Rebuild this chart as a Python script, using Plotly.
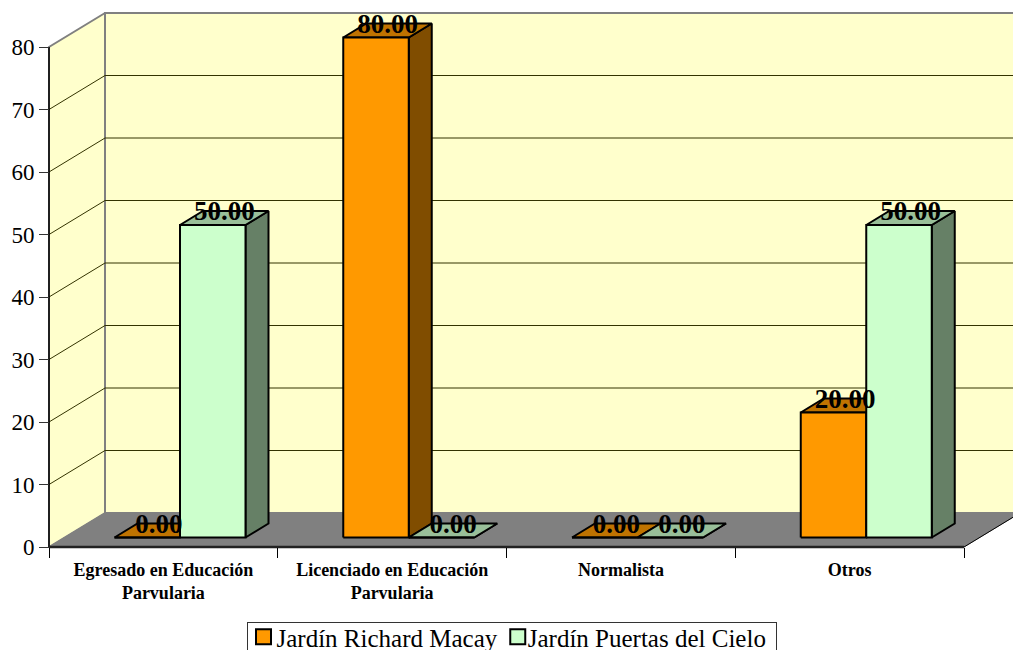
import plotly.graph_objects as go

# ---- data ----
categories = ["Egresado en Educación<br>Parvularia", "Licenciado en Educación<br>Parvularia", "Normalista", "Otros"]
richard_macay = [0, 80, 0, 20]
puertas_cielo = [50, 0, 0, 50]
y_ticks = [0, 10, 20, 30, 40, 50, 60, 70, 80]

# ---- style ----
W, H = 1013, 650
PX_X0, PX_X1, PX_Y0, PX_Y1 = 49, 964, 547, 47
ux = (PX_X1 - PX_X0) / len(categories)     # px per category
uy = (PX_Y0 - PX_Y1) / 80                  # px per value unit
WALL_DX, WALL_DY = 56 / ux, 34 / uy
BAR_DX, BAR_DY = 23 / ux, 14 / uy
SHIFT_X, SHIFT_Y = 65.5 / ux, 9.5 / uy
BAR_W = 65.5 / ux
LABEL_DROP = 2.5 / uy
SERIF = "Liberation Serif"

series = [
    ("Jardín Richard Macay", richard_macay, "#FF9900", "#BF7300", "#804D00"),
    ("Jardín Puertas del Cielo", puertas_cielo, "#CCFFCC", "#99BF99", "#668066"),
]

fig = go.Figure()


def poly(xs, ys, fill, line, lw):
    fig.add_trace(go.Scatter(x=xs, y=ys, mode="lines", fill="toself", fillcolor=fill,
                             line=dict(color=line, width=lw), cliponaxis=False,
                             showlegend=False, hoverinfo="skip"))


def path(xs, ys, color, lw):
    fig.add_trace(go.Scatter(x=xs, y=ys, mode="lines", line=dict(color=color, width=lw),
                             cliponaxis=False, showlegend=False, hoverinfo="skip"))


n = len(categories)
top = y_ticks[-1]
# walls and floor
poly([0, WALL_DX, WALL_DX, 0, 0], [0, WALL_DY, top + WALL_DY, top, 0], "#FFFFCC", "#808080", 2)
poly([WALL_DX, n + WALL_DX, n + WALL_DX, WALL_DX, WALL_DX],
     [WALL_DY, WALL_DY, top + WALL_DY, top + WALL_DY, WALL_DY], "#FFFFCC", "#808080", 2)
poly([0, n, n + WALL_DX, WALL_DX, 0], [0, 0, WALL_DY, WALL_DY, 0], "#808080", "#808080", 1)
path([n, n + WALL_DX], [0, WALL_DY], "#000000", 1)
# gridlines
for v in y_ticks[1:-1]:
    path([0, WALL_DX, n + WALL_DX], [v, v + WALL_DY, v + WALL_DY], "#333300", 1)
# axis lines
path([0, 0], [0, top], "#000000", 1.5)
path([0, n], [0, 0], "#222222", 2.5)

# bars
label_x, label_y, label_t = [], [], []
for c in range(n):
    for s, (name, vals, front, topc, side) in enumerate(series):
        v = vals[c]
        x0 = c + SHIFT_X + s * BAR_W
        x1 = x0 + BAR_W
        y0 = SHIFT_Y
        y1 = v + SHIFT_Y
        poly([x1, x1 + BAR_DX, x1 + BAR_DX, x1, x1], [y0, y0 + BAR_DY, y1 + BAR_DY, y1, y0], side, "#000000", 2)
        poly([x0, x1, x1 + BAR_DX, x0 + BAR_DX, x0], [y1, y1, y1 + BAR_DY, y1 + BAR_DY, y1], topc, "#000000", 2)
        poly([x0, x1, x1, x0, x0], [y0, y0, y1, y1, y0], front, "#000000", 2)
        label_x.append((x0 + x1 + BAR_DX) / 2)
        label_y.append(y1 + BAR_DY - LABEL_DROP)
        label_t.append(f"{v:.2f}")

fig.add_trace(go.Scatter(x=label_x, y=label_y, text=label_t, mode="text", textposition="middle center",
                         textfont=dict(family=SERIF, size=27, color="#000000", weight="bold"),
                         cliponaxis=False, showlegend=False, hoverinfo="skip"))

# legend entries
for name, vals, front, topc, side in series:
    fig.add_trace(go.Scatter(x=[None], y=[None], mode="markers", name=name,
                             marker=dict(symbol="square", size=15, color=front,
                                         line=dict(color="#000000", width=2))))

fig.update_layout(
    width=W, height=H, margin=dict(l=0, r=0, t=0, b=0, autoexpand=False),
    paper_bgcolor="#FFFFFF", plot_bgcolor="rgba(0,0,0,0)", hovermode=False,
    xaxis=dict(domain=[0, 1], range=[-PX_X0 / ux, (W - PX_X0) / ux], showgrid=False, zeroline=False,
               showline=False, anchor="free", position=(H - PX_Y0) / H,
               tickmode="array", tickvals=[i + 0.5 for i in range(n)], ticktext=categories,
               ticks="outside", ticklen=6, tickcolor="rgba(0,0,0,0)",
               tickfont=dict(family=SERIF, size=18, color="#000000", weight="bold"), tickangle=0,
               minor=dict(tickmode="array", tickvals=list(range(n + 1)), ticks="outside",
                          ticklen=10, tickcolor="#000000", tickwidth=1, showgrid=False)),
    yaxis=dict(domain=[0, 1], range=[(PX_Y0 - H) / uy, PX_Y0 / uy], showgrid=False, zeroline=False,
               showline=False, anchor="free", position=PX_X0 / W,
               tickmode="array", tickvals=y_ticks, ticks="outside", ticklen=10, tickcolor="#333333",
               tickfont=dict(family=SERIF, size=23, color="#000000")),
    showlegend=True,
    legend=dict(orientation="h", x=511.5 / W, xanchor="center", y=(H - 613) / H, yanchor="top",
                bgcolor="#FFFFFF", bordercolor="#333333", borderwidth=1,
                font=dict(family=SERIF, size=25, color="#000000")),
)

post = """
document.body.style.margin = '0';
var lg = document.querySelector('.legend');
var bg = lg.querySelector('rect.bg');
var m = /translate\\(([-\\d.]+)[ ,]+([-\\d.]+)\\)/.exec(lg.getAttribute('transform'));
var lx = parseFloat(m[1]), ly = parseFloat(m[2]);
bg.setAttribute('x', 247.5 - lx);
bg.setAttribute('y', 622.5 - ly);
bg.setAttribute('width', 529);
bg.setAttribute('height', 40);
var tr = lg.querySelectorAll('.traces');
var t2 = /translate\\(([-\\d.]+)[ ,]+([-\\d.]+)\\)/.exec(tr[1].getAttribute('transform'));
tr[1].setAttribute('transform', 'translate(' + (parseFloat(t2[1]) - 15) + ',' + t2[2] + ')');
tr[0].querySelector('.legendsymbols').setAttribute('transform', 'translate(7,0)');
tr[1].querySelector('.legendsymbols').setAttribute('transform', 'translate(10,0)');
"""
fig.write_html("out.html", config={"displayModeBar": False}, post_script=post)
